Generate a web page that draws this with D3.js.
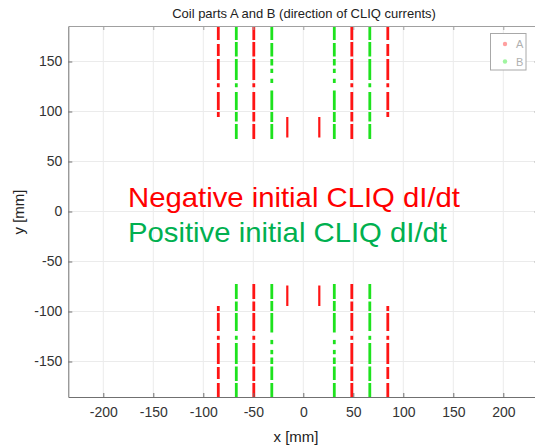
<!DOCTYPE html>
<html>
<head>
<meta charset="utf-8">
<script src="https://d3js.org/d3.v7.min.js"></script>
<style>
  body { margin: 0; background: #fff; }
  svg { display: block; font-family: "Liberation Sans", Arial, sans-serif; }
</style>
</head>
<body>
<svg id="chart" width="535" height="446"></svg>
<script>
// conductor columns (x position in mm) for each coil part
const partA_x = [-85, -49.5, -16, 16, 48.5, 84.5];
const partB_x = [-67, -31.5, 31, 66.5];
const partA_kind = ['outer', 'mid', 'pole', 'pole', 'mid', 'outer'];
const partB_kind = ['mid', 'inner', 'inner', 'mid'];

// blocks of the upper half [yStart, yEnd] in mm, lower half is the mirror image
const outerBlocks = [[94.5, 99.5], [101.5, 119.5], [124.3, 128.3], [131.5, 152.5], [155.5, 167.5], [171.5, 190]];
const midBlocks = [[72.5, 87.5], [90, 99.5], [101.5, 119.5], [124.3, 128.3], [131.5, 152.5], [155, 169.5], [171.5, 190]];
const innerBlocks = [[72.5, 87.5], [89.5, 99.5], [101.5, 121], [128.4, 132.7], [138.4, 142.7], [146, 152.5], [155, 168.5], [171.5, 190]];
const poleBlocks = [[74, 94.5]];

const xTicks = [-200, -150, -100, -50, 0, 50, 100, 150, 200];
const yTicks = [-150, -100, -50, 0, 50, 100, 150];
const legendNames = ['A', 'B'];

const colA = '#ff1414', colB = '#1ee21e';

let svg = d3.select('#chart');
let margin = {left: 68.3, right: 538.3, top: 26, bottom: 397};

let x = d3.scaleLinear().domain([-235, 235]).range([margin.left, margin.right]);
let y = d3.scaleLinear().domain([-185.5, 185.5]).range([margin.bottom, margin.top]);

svg.append('defs').append('clipPath').attr('id', 'clip')
    .append('rect')
    .attr('x', margin.left).attr('y', margin.top)
    .attr('width', margin.right - margin.left).attr('height', margin.bottom - margin.top);

// grid
let grid = svg.append('g').attr('stroke', '#ebebeb').attr('stroke-width', 1);
grid.selectAll('.gx').data(xTicks).enter().append('line')
    .attr('x1', d => x(d)).attr('x2', d => x(d))
    .attr('y1', margin.top).attr('y2', margin.bottom);
grid.selectAll('.gy').data(yTicks).enter().append('line')
    .attr('y1', d => y(d)).attr('y2', d => y(d))
    .attr('x1', margin.left).attr('x2', margin.right);

// conductor blocks
let blockSet = {outer: outerBlocks, mid: midBlocks, inner: innerBlocks, pole: poleBlocks};
let segs = [];
partA_x.forEach((cx, i) => {
    blockSet[partA_kind[i]].forEach(b => {
        segs.push({x: cx, y0: b[0], y1: b[1], c: colA, w: partA_kind[i] === 'pole' ? 2.2 : 2.8});
        segs.push({x: cx, y0: -b[0], y1: -b[1], c: colA, w: partA_kind[i] === 'pole' ? 2.2 : 2.8});
    });
});
partB_x.forEach((cx, i) => {
    blockSet[partB_kind[i]].forEach(b => {
        segs.push({x: cx, y0: b[0], y1: b[1], c: colB, w: 2.8});
        segs.push({x: cx, y0: -b[0], y1: -b[1], c: colB, w: 2.8});
    });
});

svg.append('g').attr('clip-path', 'url(#clip)')
    .selectAll('line').data(segs).enter().append('line')
    .attr('x1', d => x(d.x)).attr('x2', d => x(d.x))
    .attr('y1', d => y(d.y0)).attr('y2', d => y(d.y1))
    .attr('stroke', d => d.c)
    .attr('stroke-width', d => d.w);

// axes box with inward ticks
let fmt = d => String(d); // plain hyphen minus like the original
let xAxisB = d3.axisBottom(x).tickValues(xTicks).tickSize(-4).tickPadding(10).tickSizeOuter(0).tickFormat(fmt);
let xAxisT = d3.axisTop(x).tickValues(xTicks).tickSize(-4).tickFormat('').tickSizeOuter(0);
let yAxisL = d3.axisLeft(y).tickValues(yTicks).tickSize(-4).tickPadding(6).tickSizeOuter(0).tickFormat(fmt);
let yAxisR = d3.axisRight(y).tickValues(yTicks).tickSize(-4).tickFormat('').tickSizeOuter(0);

function styleAxis(g, col) {
    g.select('.domain').attr('stroke', col);
    g.selectAll('.tick line').attr('stroke', col);
    g.selectAll('.tick text').attr('fill', '#333').style('font-size', '14px')
        .style('font-family', '"Liberation Sans", Arial, sans-serif');
}

svg.append('g').attr('transform', `translate(0,${margin.top})`).call(xAxisT).call(g => styleAxis(g, '#a0a0a0'));
svg.append('g').attr('transform', `translate(${margin.right},0)`).call(yAxisR).call(g => styleAxis(g, '#a0a0a0'));
svg.append('g').attr('transform', `translate(0,${margin.bottom})`).call(xAxisB).call(g => styleAxis(g, '#707070'));
svg.append('g').attr('transform', `translate(${margin.left},0)`).call(yAxisL).call(g => styleAxis(g, '#707070'));

// title and labels
svg.append('text').attr('x', 304).attr('y', 18).attr('text-anchor', 'middle')
    .style('font-size', '13px').attr('fill', '#222')
    .text('Coil parts A and B (direction of CLIQ currents)');
svg.append('text').attr('x', 296).attr('y', 442).attr('text-anchor', 'middle')
    .style('font-size', '15px').attr('fill', '#222').text('x [mm]');
svg.append('text').attr('transform', 'translate(24,212) rotate(-90)').attr('text-anchor', 'middle')
    .style('font-size', '15px').attr('fill', '#222').text('y [mm]');

// annotations
svg.append('text').attr('x', 128).attr('y', 206.5)
    .attr('textLength', 332).attr('lengthAdjust', 'spacingAndGlyphs')
    .style('font-size', '28px').attr('fill', '#ff0000').text('Negative initial CLIQ dI/dt');
svg.append('text').attr('x', 128).attr('y', 241.5)
    .attr('textLength', 319).attr('lengthAdjust', 'spacingAndGlyphs')
    .style('font-size', '28px').attr('fill', '#00b050').text('Positive initial CLIQ dI/dt');

// legend
let leg = svg.append('g');
leg.append('rect').attr('x', 490.5).attr('y', 33.5).attr('width', 35.5).attr('height', 36.5)
    .attr('fill', '#fff').attr('stroke', '#a8a8a8');
leg.selectAll('circle').data(legendNames).enter().append('circle')
    .attr('cx', 505).attr('cy', (d, i) => 44 + i * 17.5).attr('r', 2.2)
    .attr('fill', (d, i) => i === 0 ? '#ffa0a0' : '#a0f5a0');
leg.selectAll('text').data(legendNames).enter().append('text')
    .attr('x', 516).attr('y', (d, i) => 48 + i * 17.5)
    .style('font-size', '11px').attr('fill', '#b0b0b0').text(d => d);
</script>
</body>
</html>
